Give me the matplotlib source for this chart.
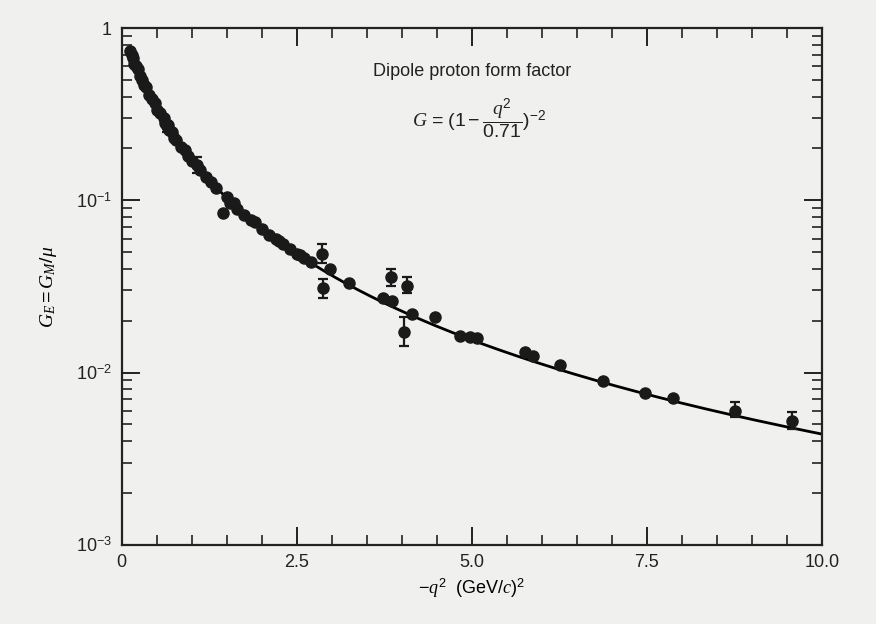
import numpy as np
import matplotlib
matplotlib.use("Agg")
import matplotlib.pyplot as plt
from matplotlib.ticker import FixedLocator, FixedFormatter, MultipleLocator

# dipole fit parameter (from the formula printed on the chart)
dipole_mass2 = 0.71
curve_start, curve_end = 0.1, 10.0

# data points without visible error bars: -q^2 (GeV/c)^2, G
q2_pts = [0.12, 0.14, 0.16, 0.18, 0.2, 0.23, 0.26, 0.29, 0.32, 0.35, 0.39, 0.43,
          0.47, 0.5, 0.55, 0.6, 0.62, 0.66, 0.68, 0.72, 0.75, 0.78, 0.85, 0.9,
          0.95, 1.0, 1.12, 1.2, 1.28, 1.35, 1.44, 1.5, 1.55, 1.6, 1.65, 1.75,
          1.85, 1.9, 2.0, 2.1, 2.2, 2.25, 2.3, 2.4, 2.5, 2.55, 2.6, 2.7,
          2.97, 3.24, 3.73, 3.86, 4.14, 4.47, 4.83, 4.97, 5.07, 5.76, 5.87,
          6.26, 6.87, 7.47, 7.87]
g_pts = [0.74, 0.70, 0.67, 0.62, 0.60, 0.58, 0.53, 0.50, 0.47, 0.455, 0.41, 0.385,
         0.365, 0.335, 0.32, 0.30, 0.28, 0.275, 0.255, 0.25, 0.23, 0.225, 0.205, 0.195,
         0.18, 0.17, 0.15, 0.137, 0.128, 0.118, 0.084, 0.104, 0.097, 0.096, 0.089, 0.082,
         0.077, 0.075, 0.068, 0.063, 0.060, 0.058, 0.056, 0.052, 0.049, 0.048, 0.046, 0.044,
         0.040, 0.033, 0.027, 0.026, 0.022, 0.021, 0.0162, 0.016, 0.0158, 0.0132, 0.0124,
         0.0110, 0.0089, 0.0076, 0.0071]

# data points with error bars
q2_err = [0.65, 1.07, 2.86, 2.87, 3.84, 4.07, 4.03, 8.76, 9.57]
g_err = [0.27, 0.16, 0.049, 0.031, 0.0357, 0.032, 0.0172, 0.0060, 0.0052]
g_lo = [0.25, 0.145, 0.043, 0.027, 0.032, 0.029, 0.0142, 0.0055, 0.0047]
g_hi = [0.29, 0.178, 0.056, 0.035, 0.040, 0.036, 0.0210, 0.0067, 0.0059]

y_ticks = [1e-3, 1e-2, 1e-1, 1]
y_ticklabels = ["$10^{-3}$", "$10^{-2}$", "$10^{-1}$", "1"]
x_ticks = [0, 2.5, 5.0, 7.5, 10.0]
x_ticklabels = ["0", "2.5", "5.0", "7.5", "10.0"]

bg = "#f0f0ee"
plt.rcParams["font.family"] = ["Liberation Sans", "DejaVu Sans"]
plt.rcParams["mathtext.fontset"] = "custom"
plt.rcParams["mathtext.rm"] = "Liberation Sans"
plt.rcParams["mathtext.sf"] = "Liberation Sans"
plt.rcParams["mathtext.it"] = "Liberation Serif:italic"
plt.rcParams["mathtext.bf"] = "Liberation Sans:bold"

fig = plt.figure(figsize=(8.76, 6.24), dpi=100, facecolor=bg)
ax = fig.add_axes([0.139, 0.127, 0.799, 0.828], facecolor=bg)

xc = np.linspace(curve_start, curve_end, 400)
ax.plot(xc, (1 + xc / dipole_mass2) ** -2, color="black", lw=2.0, zorder=2)
ax.plot(q2_pts, g_pts, "o", color="#1a1a1a", ms=8, zorder=3)
g_err = np.array(g_err)
ax.errorbar(q2_err, g_err,
            yerr=[g_err - np.array(g_lo), np.array(g_hi) - g_err],
            fmt="o", color="#1a1a1a", ms=8, elinewidth=1.6, capsize=3.5,
            capthick=1.6, zorder=3)

ax.set_yscale("log")
ax.set_xlim(0, 10)
ax.set_ylim(1e-3, 1)
ax.xaxis.set_major_locator(FixedLocator(x_ticks))
ax.xaxis.set_major_formatter(FixedFormatter(x_ticklabels))
ax.xaxis.set_minor_locator(MultipleLocator(0.5))
ax.yaxis.set_major_locator(FixedLocator(y_ticks))
ax.yaxis.set_major_formatter(FixedFormatter(y_ticklabels))
ax.tick_params(which="both", direction="in", top=True, right=True,
               colors="#222222", labelsize=13)
ax.tick_params(which="major", length=13, width=1.4, pad=7)
ax.tick_params(which="minor", length=7, width=1.2)
for s in ax.spines.values():
    s.set_linewidth(1.6)
    s.set_color("#222222")

ax.set_xlabel("$-q^2$  (GeV/$c$)$^2$", fontsize=13, labelpad=4)
ax.set_ylabel("$G_E = G_M/\\mu$", fontsize=14, labelpad=12)

ax.text(0.50, 0.915, "Dipole proton form factor", transform=ax.transAxes,
        ha="center", va="center", fontsize=13, color="#222222")
ax.text(0.51, 0.825, "$G\\,=\\,(1 - \\dfrac{q^2}{0.71})^{-2}$", transform=ax.transAxes,
        ha="center", va="center", fontsize=14, color="#222222")

fig.savefig("out.png", dpi=100, facecolor=bg)
